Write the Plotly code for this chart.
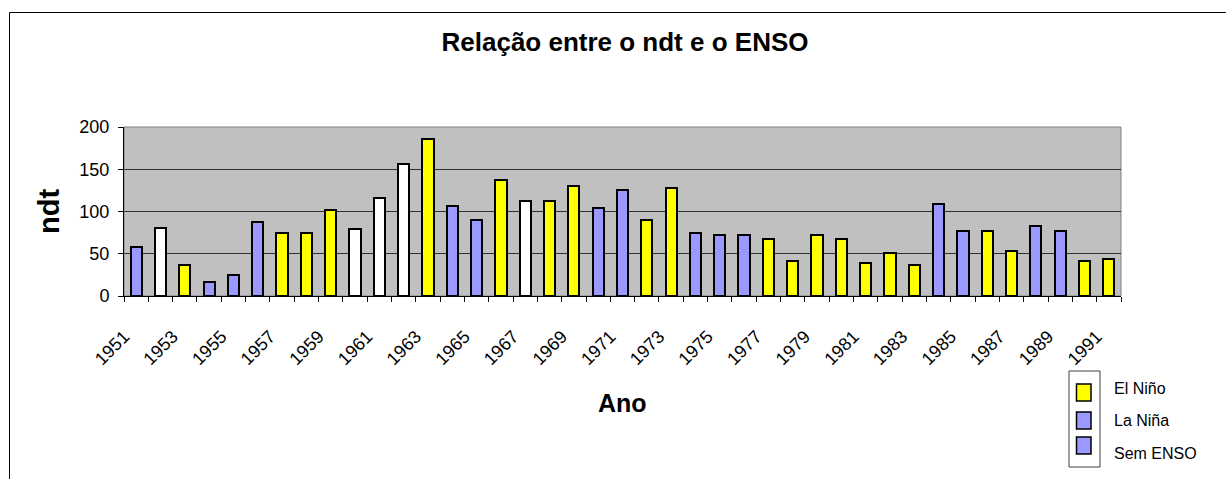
import plotly.graph_objects as go

# Anos e número de dias de trovoada (ndt)
anos = list(range(1951, 1992))
ndt = [58, 81, 37, 16, 25, 88, 74, 74, 102, 79,
       116, 156, 186, 107, 90, 137, 113, 113, 130, 104,
       125, 90, 128, 74, 72, 72, 68, 41, 72, 68,
       39, 51, 37, 109, 77, 77, 53, 83, 77, 42,
       44]
# Classificação ENSO de cada ano: E = El Niño, L = La Niña, S = Sem ENSO
fase = ["L", "S", "E", "L", "L", "L", "E", "E", "E", "S",
        "S", "S", "E", "L", "L", "E", "S", "E", "E", "L",
        "L", "E", "E", "L", "L", "L", "E", "E", "E", "E",
        "E", "E", "E", "L", "L", "E", "E", "L", "L", "E",
        "E"]

series = [("E", "El Niño", "#FFFF00"),
          ("L", "La Niña", "#9999FF"),
          ("S", "Sem ENSO", "#FFFFFF")]
legenda_nomes = ["El Niño", "La Niña", "Sem ENSO"]
legenda_cores = ["#FFFF00", "#9999FF", "#9999FF"]
rotulos_x = list(range(1951, 1992, 2))

W, H = 1226, 479
L, R, T, B = 124, 105, 127, 183
PW, PH = W - L - R, H - T - B


def px(x):
    return (x - L) / PW


def py(y):
    return (H - B - y) / PH


fig = go.Figure()
for code, name, color in series:
    xs = [a for a, f in zip(anos, fase) if f == code]
    ys = [v for v, f in zip(ndt, fase) if f == code]
    fig.add_trace(go.Bar(
        x=xs, y=ys, name=name, width=0.46, showlegend=False,
        marker=dict(color=color, line=dict(color="black", width=2)),
    ))

shapes = [
    # plot area frame
    dict(type="rect", xref="paper", yref="paper", x0=0, x1=1, y0=0, y1=1,
         line=dict(color="#808080", width=1), layer="below"),
    # chart area frame
    dict(type="rect", xref="paper", yref="paper", x0=px(9.5), x1=px(1240),
         y0=py(495), y1=py(12.5), line=dict(color="black", width=1)),
    # legend frame
    dict(type="rect", xref="paper", yref="paper", x0=px(1069), x1=px(1100),
         y0=py(467), y1=py(371), line=dict(color="#404040", width=1)),
]
annotations = [
    dict(text="<b>Ano</b>", x=px(622), y=py(403), xref="paper", yref="paper",
         xanchor="center", yanchor="middle", showarrow=False,
         font=dict(size=25, color="black", family="Liberation Sans, Arial")),
    dict(text="<b>ndt</b>", x=px(49), y=py(212), xref="paper", yref="paper",
         xanchor="center", yanchor="middle", showarrow=False, textangle=-90,
         font=dict(size=29, color="black", family="Liberation Sans, Arial")),
]
sw_top = [384, 412, 437]
txt_y = [388, 420, 453]
for nome, cor, t0, ty in zip(legenda_nomes, legenda_cores, sw_top, txt_y):
    shapes.append(dict(type="rect", xref="paper", yref="paper",
                       x0=px(1076.5), x1=px(1091), y0=py(t0 + 17), y1=py(t0),
                       fillcolor=cor, line=dict(color="black", width=1.5)))
    annotations.append(dict(text=nome, x=px(1112), y=py(ty), xref="paper",
                            yref="paper", xanchor="left", yanchor="middle",
                            showarrow=False,
                            font=dict(size=16, color="black",
                                      family="Liberation Sans, Arial")))

fig.update_layout(
    width=W, height=H,
    margin=dict(l=L, r=R, t=T, b=B, pad=0),
    paper_bgcolor="white", plot_bgcolor="#C0C0C0",
    barmode="overlay", bargap=0,
    font=dict(family="Liberation Sans, Arial", color="black"),
    title=dict(text="<b>Relação entre o ndt e o ENSO</b>",
               x=625 / W, y=1 - 42 / H, xanchor="center", yanchor="middle",
               xref="container", yref="container",
               font=dict(size=26, color="black")),
    shapes=shapes, annotations=annotations,
)
fig.update_xaxes(
    range=[1950.5, 1991.5], tickmode="array", tickvals=rotulos_x,
    ticktext=[str(v) for v in rotulos_x], tickangle=-45,
    tickfont=dict(size=18), ticks="", showgrid=False, zeroline=False,
    ticklabelstandoff=22, ticklabelshift=-12,
    showline=True, linecolor="black", linewidth=1,
    minor=dict(tickmode="array", tickvals=[a - 0.5 for a in anos] + [1991.5],
               ticks="outside", ticklen=5, tickcolor="black", showgrid=False),
)
fig.update_yaxes(
    range=[0, 200], tickvals=[0, 50, 100, 150, 200], ticks="outside",
    ticklen=5, tickcolor="black", tickfont=dict(size=18),
    ticklabelstandoff=5,
    showgrid=True, gridcolor="#303030", gridwidth=1, zeroline=False,
    showline=True, linecolor="black", linewidth=1,
)

fig.write_html("out.html")
